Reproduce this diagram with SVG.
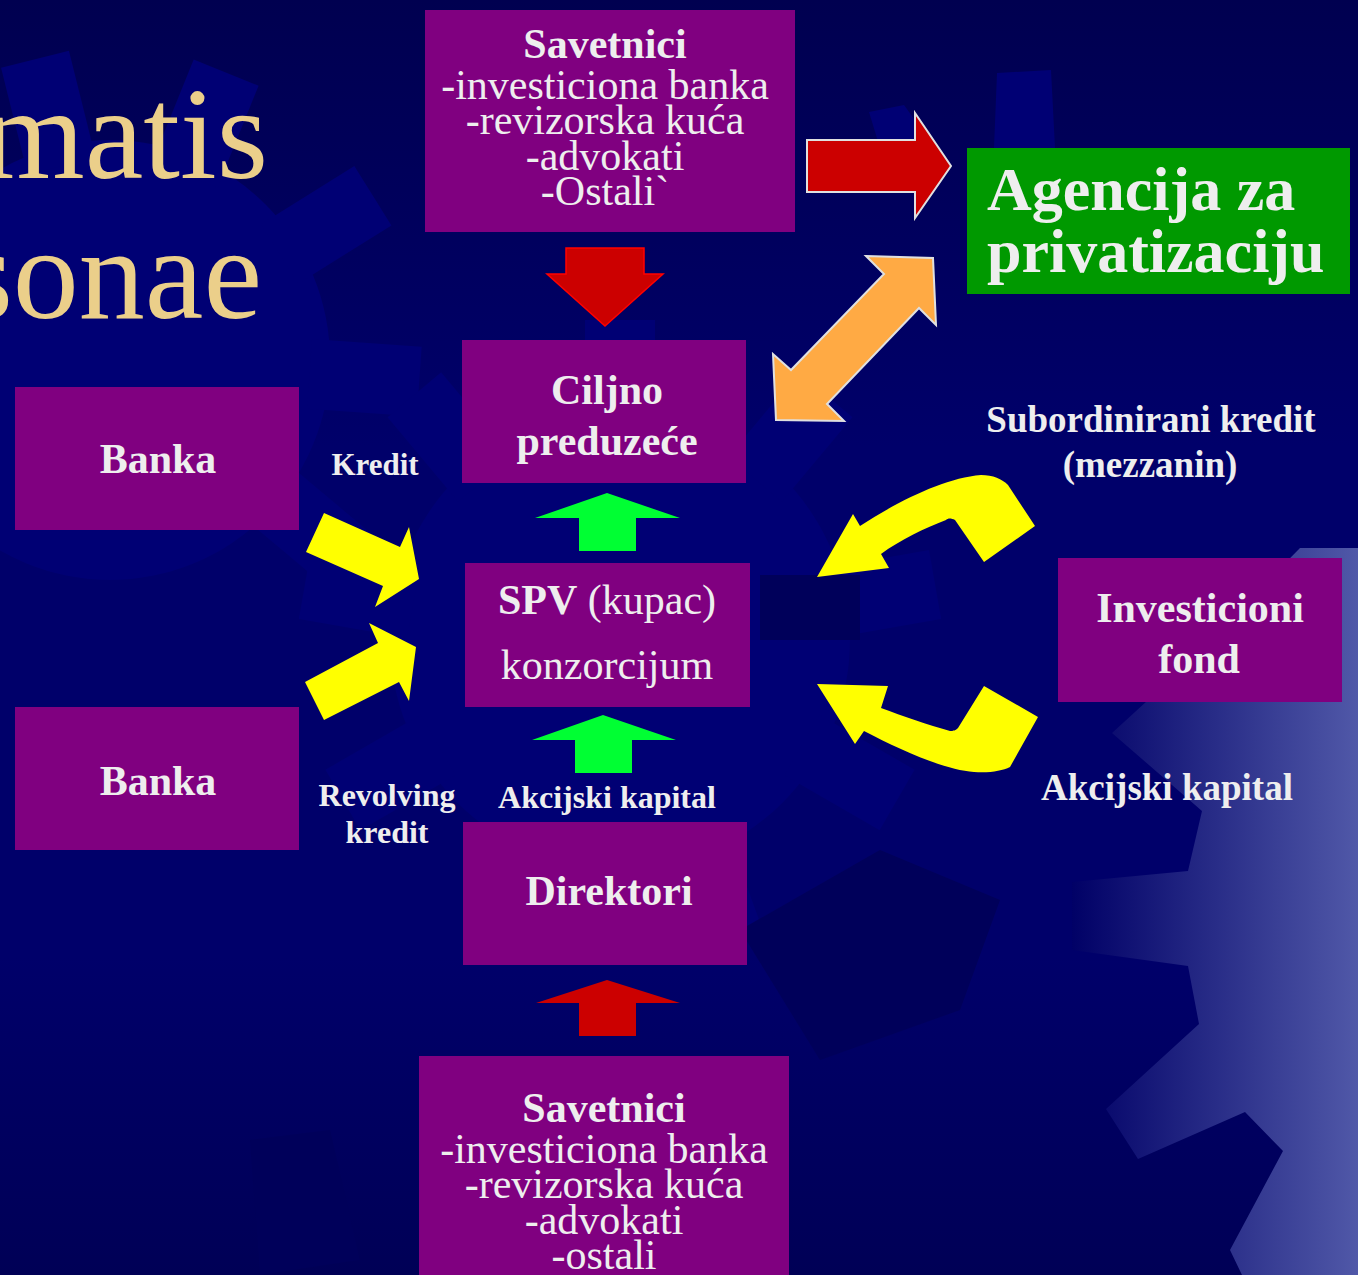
<svg xmlns="http://www.w3.org/2000/svg" width="1358" height="1275" viewBox="0 0 1358 1275">
<defs>
<linearGradient id="bg" x1="0" y1="0" x2="0" y2="1">
<stop offset="0" stop-color="#000050"/>
<stop offset="0.35" stop-color="#00006a"/>
<stop offset="0.75" stop-color="#00006a"/>
<stop offset="1" stop-color="#000056"/>
</linearGradient>
<linearGradient id="lgear" x1="1070" y1="0" x2="1358" y2="0" gradientUnits="userSpaceOnUse">
<stop offset="0" stop-color="#000066"/>
<stop offset="1" stop-color="#5058A8"/>
</linearGradient>
<style>
.box{fill:#800080}
.t{font-family:"Liberation Serif","Times New Roman",serif;fill:#EEEEEE;text-anchor:middle}
.b{font-weight:bold}
.title{font-family:"Liberation Serif","Times New Roman",serif;fill:#EBCF8A;font-size:132px;text-anchor:end}
.red{fill:#CC0000}
.grn{fill:#00FF33}
.yel{fill:#FFFF00}
.gl{fill:#000074}
.gd{fill:#00005a}
</style>
</defs>
<rect width="1358" height="1275" fill="url(#bg)"/>
<g id="background-gears">
<g class="gl">
<circle cx="110" cy="360" r="220"/>
<rect x="75" y="50" width="70" height="110" transform="rotate(-14 110 360)"/>
<rect x="75" y="50" width="70" height="110" transform="rotate(22 110 360)"/>
<rect x="75" y="50" width="70" height="110" transform="rotate(58 110 360)"/>
<rect x="75" y="50" width="70" height="110" transform="rotate(94 110 360)"/>
<rect x="75" y="50" width="70" height="110" transform="rotate(130 110 360)"/>
</g>
<g class="gl">
<circle cx="620" cy="640" r="230"/>
<rect x="585" y="320" width="70" height="110" transform="rotate(-40 620 640)"/>
<rect x="585" y="320" width="70" height="110" transform="rotate(0 620 640)"/>
<rect x="585" y="320" width="70" height="110" transform="rotate(40 620 640)"/>
<rect x="585" y="320" width="70" height="110" transform="rotate(80 620 640)"/>
<rect x="585" y="320" width="70" height="110" transform="rotate(120 620 640)"/>
<rect x="585" y="320" width="70" height="110" transform="rotate(160 620 640)"/>
<rect x="585" y="320" width="70" height="110" transform="rotate(200 620 640)"/>
<rect x="585" y="320" width="70" height="110" transform="rotate(240 620 640)"/>
<rect x="585" y="320" width="70" height="110" transform="rotate(280 620 640)"/>
</g>
<g class="gl">
<polygon points="997,73 1051,70 1055,148 994,148"/>
<polygon points="869,112 904,105 935,148 880,148"/>
</g>
<g class="gd">
<rect x="760" y="575" width="100" height="65"/>
<polygon points="740,930 880,850 1000,900 960,1010 820,1060"/>
<polygon points="250,1140 330,1130 360,1260 260,1275"/>
</g>
<g fill="url(#lgear)">
<polygon points="1300,548 1358,548 1358,1275 1242,1275 1230,1250 1283,1151 1245,1112 1138,1159 1106,1109 1199,1024 1188,966 1072,950 1072,882 1188,871 1202,811 1112,733 1170,680"/>
</g>
</g>
<g id="title">
<text class="title" x="268" y="178">matis</text>
<text class="title" x="262" y="318">sonae</text>
</g>
<g id="connectors">
<polygon id="arrow-sav-cilj" class="red" stroke="#FF0000" stroke-width="1.5" points="566,248 644,248 644,274 663,274 605,326 547,274 566,274"/>
<polygon id="arrow-sav-agencija" class="red" stroke="#E0E0E0" stroke-width="2" points="807,140 915,140 915,113 951,166 915,218 915,192 807,192"/>
<polygon id="arrow-agencija-cilj" fill="#FFAA44" stroke="#E0E0E0" stroke-width="2" points="866,256 933,258 936,325 919,308 827,404 844,421 776,420 773,354 791,370 884,274"/>
<polygon id="arrow-banka1-spv" class="yel" points="324,513 400,547 409,527 419,579 375,607 383,586 306,552"/>
<polygon id="arrow-banka2-spv" class="yel" points="305,682 378,643 369,623 416,647 409,701 399,682 324,720"/>
<polygon id="arrow-spv-cilj" class="grn" points="607,493 680,518 636,518 636,551 579,551 579,518 535,518"/>
<polygon id="arrow-dir-spv" class="grn" points="603,715 676,740 632,740 632,773 575,773 575,740 532,740"/>
<polygon id="arrow-sav2-dir" class="red" points="607,980 680,1003 636,1003 636,1036 579,1036 579,1003 536,1003"/>
<path id="arrow-fond-spv-mezz" class="yel" d="M817,577 L853,514 L860,526 C900,500 945,478 981,475 C993,475 1002,479 1008,485 L1035,526 L984,562 L955,520 C951,518 948,518 946,520 C925,528 900,540 881,554 L889,568 Z"/>
<path id="arrow-fond-spv-akc" class="yel" d="M817,684 L855,744 L864,731 C900,750 945,770 974,772 C990,773 1002,771 1010,767 L1038,717 L984,686 L958,728 C955,731 953,731 950,731 C928,725 903,716 881,708 L888,686 Z"/>
</g>
<g id="savetnici-top">
<rect class="box" x="425" y="10" width="370" height="222"/>
<text class="t b" x="605" y="58" font-size="42">Savetnici</text>
<text class="t" x="605" y="99" font-size="42">-investiciona banka</text>
<text class="t" x="605" y="134" font-size="42">-revizorska kuća</text>
<text class="t" x="605" y="170" font-size="42">-advokati</text>
<text class="t" x="605" y="205" font-size="42">-Ostali`</text>
</g>
<g id="agencija">
<rect x="967" y="148" width="383" height="146" fill="#009900"/>
<text class="t b" x="987" y="210" font-size="62" style="text-anchor:start">Agencija za</text>
<text class="t b" x="987" y="272" font-size="62" style="text-anchor:start">privatizaciju</text>
</g>
<g id="ciljno">
<rect class="box" x="462" y="340" width="284" height="143"/>
<text class="t b" x="607" y="404" font-size="42">Ciljno</text>
<text class="t b" x="607" y="455" font-size="42">preduzeće</text>
</g>
<g id="banka1">
<rect class="box" x="15" y="387" width="284" height="143"/>
<text class="t b" x="158" y="473" font-size="42">Banka</text>
</g>
<g id="banka2">
<rect class="box" x="15" y="707" width="284" height="143"/>
<text class="t b" x="158" y="795" font-size="42">Banka</text>
</g>
<g id="spv">
<rect class="box" x="465" y="563" width="285" height="144"/>
<text class="t" x="607" y="614" font-size="42"><tspan class="b">SPV</tspan> (kupac)</text>
<text class="t" x="607" y="679" font-size="42">konzorcijum</text>
</g>
<g id="fond">
<rect class="box" x="1058" y="558" width="284" height="144"/>
<text class="t b" x="1200" y="622" font-size="42">Investicioni</text>
<text class="t b" x="1199" y="673" font-size="42">fond</text>
</g>
<g id="direktori">
<rect class="box" x="463" y="822" width="284" height="143"/>
<text class="t b" x="609" y="905" font-size="42">Direktori</text>
</g>
<g id="savetnici-bottom">
<rect class="box" x="419" y="1056" width="370" height="230"/>
<text class="t b" x="604" y="1122" font-size="42">Savetnici</text>
<text class="t" x="604" y="1163" font-size="42">-investiciona banka</text>
<text class="t" x="604" y="1198" font-size="42">-revizorska kuća</text>
<text class="t" x="604" y="1234" font-size="42">-advokati</text>
<text class="t" x="604" y="1269" font-size="42">-ostali</text>
</g>
<g id="labels">
<text class="t b" x="375" y="475" font-size="31">Kredit</text>
<text class="t b" x="387" y="806" font-size="32">Revolving</text>
<text class="t b" x="387" y="843" font-size="32">kredit</text>
<text class="t b" x="607" y="808" font-size="32">Akcijski kapital</text>
<text class="t b" x="1151" y="432" font-size="37">Subordinirani kredit</text>
<text class="t b" x="1150" y="477" font-size="37">(mezzanin)</text>
<text class="t b" x="1167" y="800" font-size="37">Akcijski kapital</text>
</g>
</svg>
